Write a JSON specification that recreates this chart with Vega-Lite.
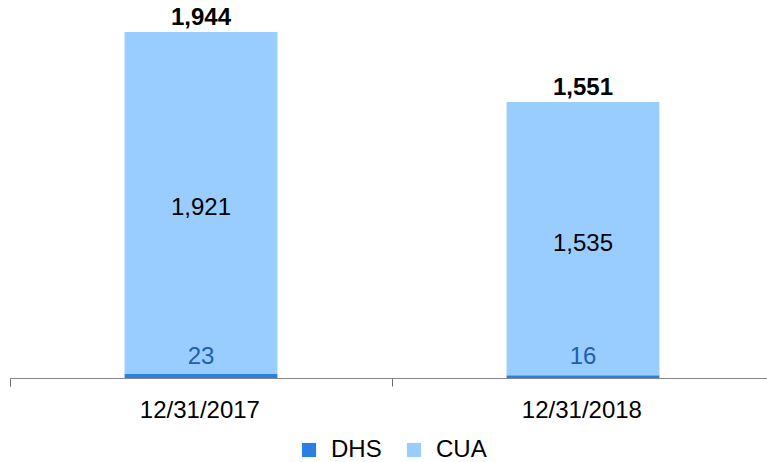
{
  "$schema": "https://vega.github.io/schema/vega-lite/v6.json",
  "width": 764,
  "height": 378,
  "autosize": {"type": "none"},
  "padding": {"left": 10, "top": 0, "right": 0, "bottom": 84},
  "background": "white",
  "config": {
    "view": {"stroke": null},
    "font": "Liberation Sans",
    "legend": {"layout": {"bottom": {"anchor": "middle"}}}
  },
  "data": {
    "values": [
      {"date": "12/31/2017", "series": "DHS", "value": 23},
      {"date": "12/31/2017", "series": "CUA", "value": 1921},
      {"date": "12/31/2018", "series": "DHS", "value": 16},
      {"date": "12/31/2018", "series": "CUA", "value": 1535}
    ]
  },
  "transform": [
    {"stack": "value", "groupby": ["date"], "sort": [{"field": "series", "order": "descending"}], "as": ["y0", "y1"]}
  ],
  "encoding": {
    "x": {
      "field": "date",
      "type": "nominal",
      "title": null,
      "scale": {"paddingInner": 0.6, "paddingOuter": 0.3},
      "axis": {
        "labelAngle": 0,
        "labelAlign": "center",
        "labelFontSize": 24,
        "labelColor": "#000000",
        "labelPadding": 12,
        "labelOffset": 113,
        "ticks": true,
        "bandPosition": 0,
        "tickExtra": true,
        "tickOffset": -114.6,
        "tickSize": 8,
        "tickWidth": 1,
        "tickColor": "#707070",
        "domainColor": "#868686",
        "labelFont": "Liberation Sans"
      }
    }
  },
  "layer": [
    {
      "mark": {"type": "bar"},
      "encoding": {
        "y": {"field": "y0", "type": "quantitative", "scale": {"domain": [0, 2124], "nice": false}, "axis": null},
        "y2": {"field": "y1"},
        "color": {
          "field": "series",
          "type": "nominal",
          "scale": {"domain": ["DHS", "CUA"], "range": ["#2A7FE0", "#99CCFF"]},
          "legend": {
            "title": null,
            "orient": "bottom",
            "direction": "horizontal",
            "symbolType": "square",
            "symbolSize": 200,
            "symbolStrokeWidth": 0,
            "labelFontSize": 24,
            "labelColor": "#000000",
            "labelOffset": 10,
            "columnPadding": 20,
            "offset": 16
          }
        }
      }
    },
    {
      "transform": [
        {"filter": "datum.series === 'CUA'"},
        {"fold": ["y0", "y1"], "as": ["edge", "pos"]},
        {"aggregate": [{"op": "mean", "field": "pos", "as": "mid"}], "groupby": ["date", "value"]}
      ],
      "mark": {"type": "text", "fontSize": 24, "color": "#000000", "baseline": "middle", "dy": 5},
      "encoding": {
        "y": {"field": "mid", "type": "quantitative"},
        "text": {"field": "value", "type": "quantitative", "format": ","}
      }
    },
    {
      "transform": [{"filter": "datum.series === 'DHS'"}],
      "mark": {"type": "text", "fontSize": 24, "color": "#1F5FAF", "baseline": "middle", "dy": -21},
      "encoding": {
        "y": {"field": "y0", "type": "quantitative"},
        "text": {"field": "value", "type": "quantitative", "format": ","}
      }
    },
    {
      "transform": [{"aggregate": [{"op": "max", "field": "y1", "as": "total"}], "groupby": ["date"]}],
      "mark": {"type": "text", "fontSize": 24, "fontWeight": "bold", "color": "#000000", "baseline": "alphabetic", "dy": -7},
      "encoding": {
        "y": {"field": "total", "type": "quantitative"},
        "text": {"field": "total", "type": "quantitative", "format": ","}
      }
    }
  ]
}
